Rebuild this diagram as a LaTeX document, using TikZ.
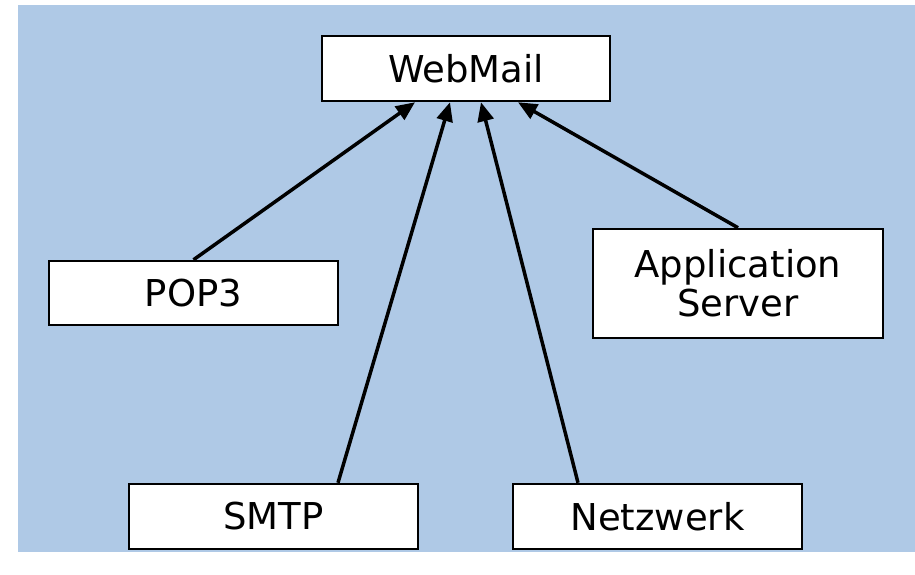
\documentclass[tikz,border=0pt]{standalone}
\usepackage{fontspec}
\setmainfont{DejaVu Sans}
\usetikzlibrary{arrows.meta}
\definecolor{bgblue}{RGB}{175,201,230}
\begin{document}
\begin{tikzpicture}[x=1pt,y=-1pt,
  box/.style={draw=black,line width=2.5pt,fill=white,inner sep=0pt,align=center,
    font=\fontsize{37}{39}\selectfont,minimum width=#1},
  box/.default=289pt,
  link/.style={line width=3.5pt,-{Triangle[length=19pt,width=16pt]}}]
\useasboundingbox (0,0) rectangle (915,574);
\fill[bgblue] (18,5) rectangle (915,552);
\node[box=288pt,minimum height=65pt] (web) at (466,68.5) {WebMail};
\node[box,minimum height=64pt] (pop) at (193.5,293) {POP3};
\node[box=290pt,minimum height=109pt] (app) at (738,283.5) {Application\\Server};
\node[box,minimum height=65pt] (smtp) at (273.5,516.5) {SMTP};
\node[box,minimum height=65pt] (net) at (657.5,516.5) {Netzwerk};
\draw[link] (pop.north) -- ([xshift=-51pt]web.south);
\draw[link] ([xshift=64.5pt]smtp.north) -- ([xshift=-16pt]web.south);
\draw[link] ([xshift=-79.5pt]net.north) -- ([xshift=15pt]web.south);
\draw[link] (app.north) -- ([xshift=52pt]web.south);
\end{tikzpicture}
\end{document}
